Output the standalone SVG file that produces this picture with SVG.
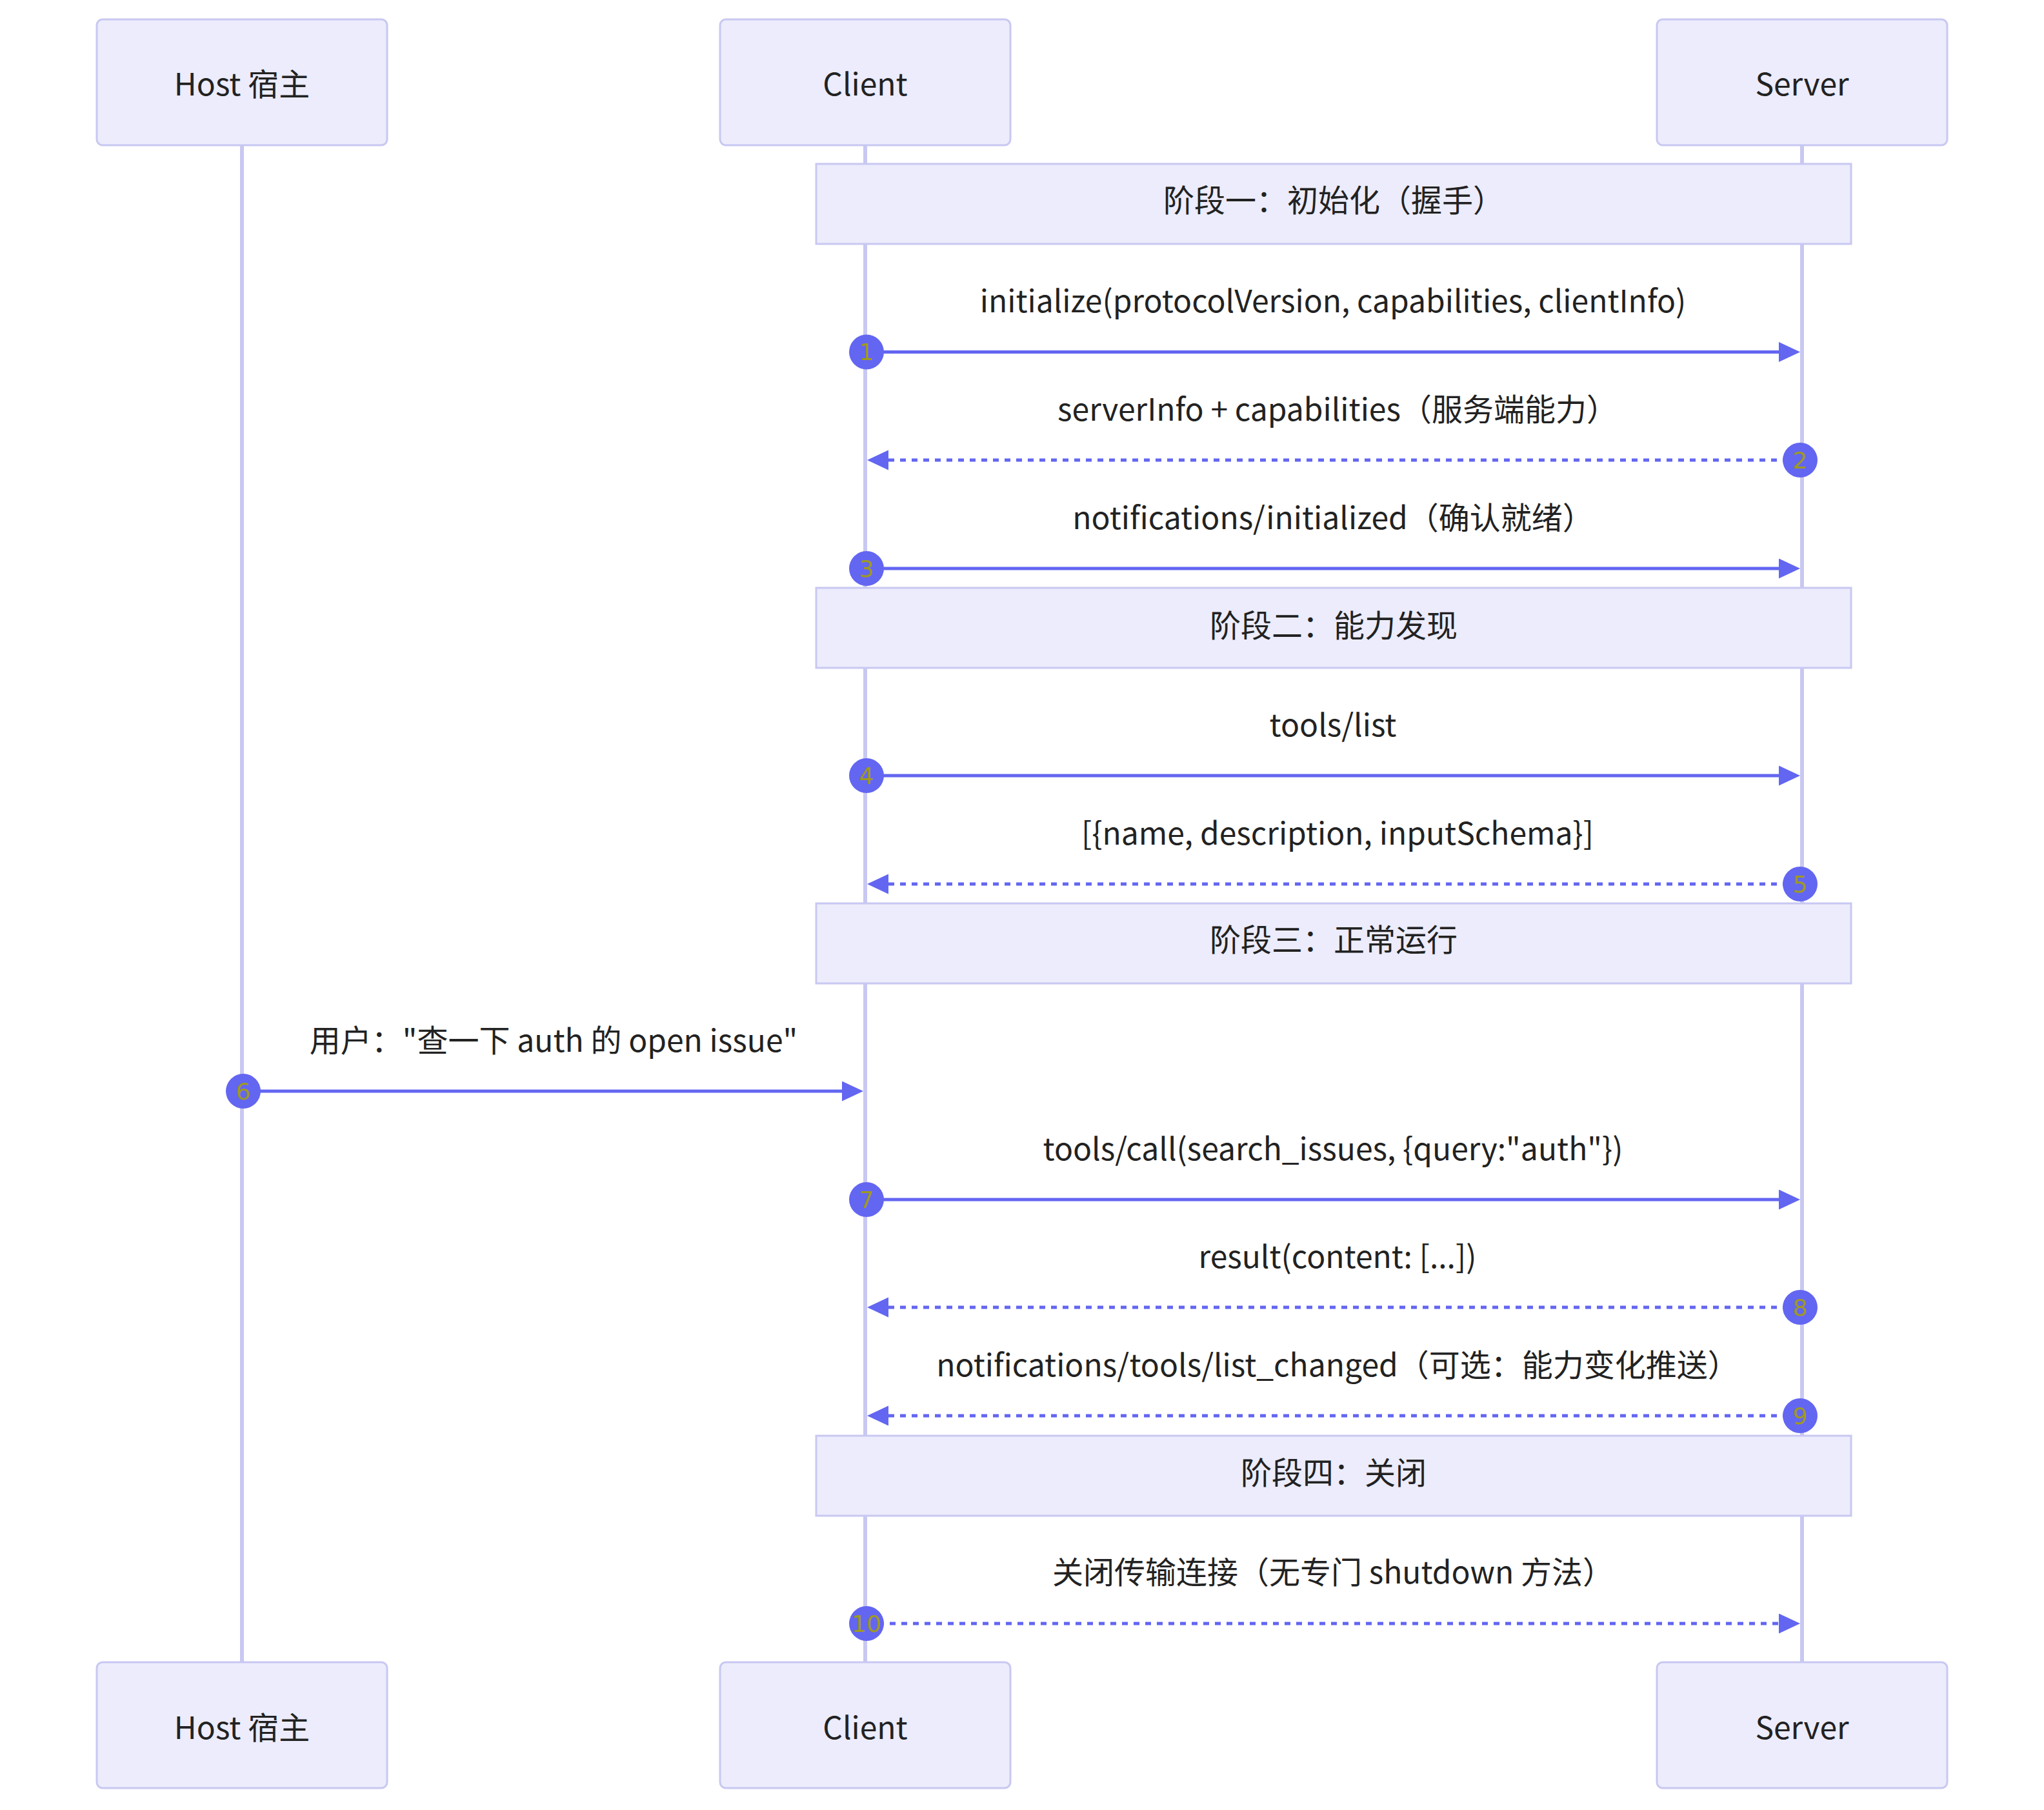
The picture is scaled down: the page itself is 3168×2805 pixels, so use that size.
<svg xmlns="http://www.w3.org/2000/svg" width="3168" height="2805" viewBox="0 0 3168 2805">
<style>
.actor{fill:#ececfc;stroke:#c8c8f2;stroke-width:3}
.note{fill:#ececfc;stroke:#c8c8f2;stroke-width:3}
.life{stroke:#c8c8f2;stroke-width:6}
.t{font-family:"Noto Sans CJK SC","Noto Sans",sans-serif;font-size:48px;fill:#222;text-anchor:middle}
.msg{stroke:#6366f1;stroke-width:5;fill:none}
.dash{stroke-dasharray:9 9}
.num{fill:#6366f1}
.nt{font-family:"DejaVu Sans",sans-serif;font-size:36px;fill:#a09a1c;text-anchor:middle}
</style>
<defs>
<marker id="ah" markerUnits="userSpaceOnUse" markerWidth="34" markerHeight="32" refX="0" refY="15.5" orient="auto" viewBox="0 0 34 32">
<path d="M0,0 L33,15.5 L0,31 z" fill="#6366f1"/>
</marker>
</defs>
<rect width="3168" height="2805" fill="#fff"/>
<g id="lifelines">
<line class="life" x1="375" y1="225" x2="375" y2="2576"/>
<line class="life" x1="1341" y1="225" x2="1341" y2="2576"/>
<line class="life" x1="2793" y1="225" x2="2793" y2="2576"/>
</g>
<g id="actor-host-top"><rect class="actor" x="150" y="30" width="450" height="195" rx="9"/><text class="t" x="375" y="148">Host 宿主</text></g>
<g id="actor-client-top"><rect class="actor" x="1116" y="30" width="450" height="195" rx="9"/><text class="t" x="1341" y="148">Client</text></g>
<g id="actor-server-top"><rect class="actor" x="2568" y="30" width="450" height="195" rx="9"/><text class="t" x="2793" y="148">Server</text></g>
<g id="actor-host-bottom"><rect class="actor" x="150" y="2576" width="450" height="195" rx="9"/><text class="t" x="375" y="2695">Host 宿主</text></g>
<g id="actor-client-bottom"><rect class="actor" x="1116" y="2576" width="450" height="195" rx="9"/><text class="t" x="1341" y="2695">Client</text></g>
<g id="actor-server-bottom"><rect class="actor" x="2568" y="2576" width="450" height="195" rx="9"/><text class="t" x="2793" y="2695">Server</text></g>
<g id="note-phase1"><rect class="note" x="1265" y="254" width="1604" height="124"/><text class="t" x="2067" y="328">阶段一：初始化（握手）</text></g>
<g id="note-phase2"><rect class="note" x="1265" y="911" width="1604" height="124"/><text class="t" x="2067" y="987">阶段二：能力发现</text></g>
<g id="note-phase3"><rect class="note" x="1265" y="1400" width="1604" height="124"/><text class="t" x="2067" y="1474">阶段三：正常运行</text></g>
<g id="note-phase4"><rect class="note" x="1265" y="2225" width="1604" height="124"/><text class="t" x="2067" y="2300">阶段四：关闭</text></g>
<g id="connectors">
<text class="t" x="2066" y="484">initialize(protocolVersion, capabilities, clientInfo)</text>
<line class="msg" x1="1343" y1="545.5" x2="2757" y2="545.5" marker-end="url(#ah)"/>
<circle class="num" cx="1343" cy="545.5" r="27"/><text class="nt" x="1343" y="558">1</text>

<text class="t" x="2073" y="651.5">serverInfo + capabilities（服务端能力）</text>
<line class="msg dash" x1="2790" y1="713" x2="1377" y2="713" marker-end="url(#ah)"/>
<circle class="num" cx="2790" cy="713" r="27"/><text class="nt" x="2790" y="726">2</text>

<text class="t" x="2066" y="819.5">notifications/initialized（确认就绪）</text>
<line class="msg" x1="1343" y1="881" x2="2757" y2="881" marker-end="url(#ah)"/>
<circle class="num" cx="1343" cy="881" r="27"/><text class="nt" x="1343" y="894">3</text>

<text class="t" x="2066" y="1140.5">tools/list</text>
<line class="msg" x1="1343" y1="1202" x2="2757" y2="1202" marker-end="url(#ah)"/>
<circle class="num" cx="1343" cy="1202" r="27"/><text class="nt" x="1343" y="1215">4</text>

<text class="t" x="2073" y="1308.5">[{name, description, inputSchema}]</text>
<line class="msg dash" x1="2790" y1="1370" x2="1377" y2="1370" marker-end="url(#ah)"/>
<circle class="num" cx="2790" cy="1370" r="27"/><text class="nt" x="2790" y="1383">5</text>

<text class="t" x="858" y="1629.5">用户："查一下 auth 的 open issue"</text>
<line class="msg" x1="377" y1="1691" x2="1305" y2="1691" marker-end="url(#ah)"/>
<circle class="num" cx="377" cy="1691" r="27"/><text class="nt" x="377" y="1704">6</text>

<text class="t" x="2066" y="1797.5">tools/call(search_issues, {query:"auth"})</text>
<line class="msg" x1="1343" y1="1859" x2="2757" y2="1859" marker-end="url(#ah)"/>
<circle class="num" cx="1343" cy="1859" r="27"/><text class="nt" x="1343" y="1872">7</text>

<text class="t" x="2073" y="1964.5">result(content: [...])</text>
<line class="msg dash" x1="2790" y1="2026" x2="1377" y2="2026" marker-end="url(#ah)"/>
<circle class="num" cx="2790" cy="2026" r="27"/><text class="nt" x="2790" y="2039">8</text>

<text class="t" x="2073" y="2132.5">notifications/tools/list_changed（可选：能力变化推送）</text>
<line class="msg dash" x1="2790" y1="2194" x2="1377" y2="2194" marker-end="url(#ah)"/>
<circle class="num" cx="2790" cy="2194" r="27"/><text class="nt" x="2790" y="2207">9</text>

<text class="t" x="2066" y="2453.5">关闭传输连接（无专门 shutdown 方法）</text>
<line class="msg dash" x1="1343" y1="2516" x2="2757" y2="2516" marker-end="url(#ah)"/>
<circle class="num" cx="1343" cy="2516" r="27"/><text class="nt" x="1343" y="2529">10</text>
</g>
</svg>
